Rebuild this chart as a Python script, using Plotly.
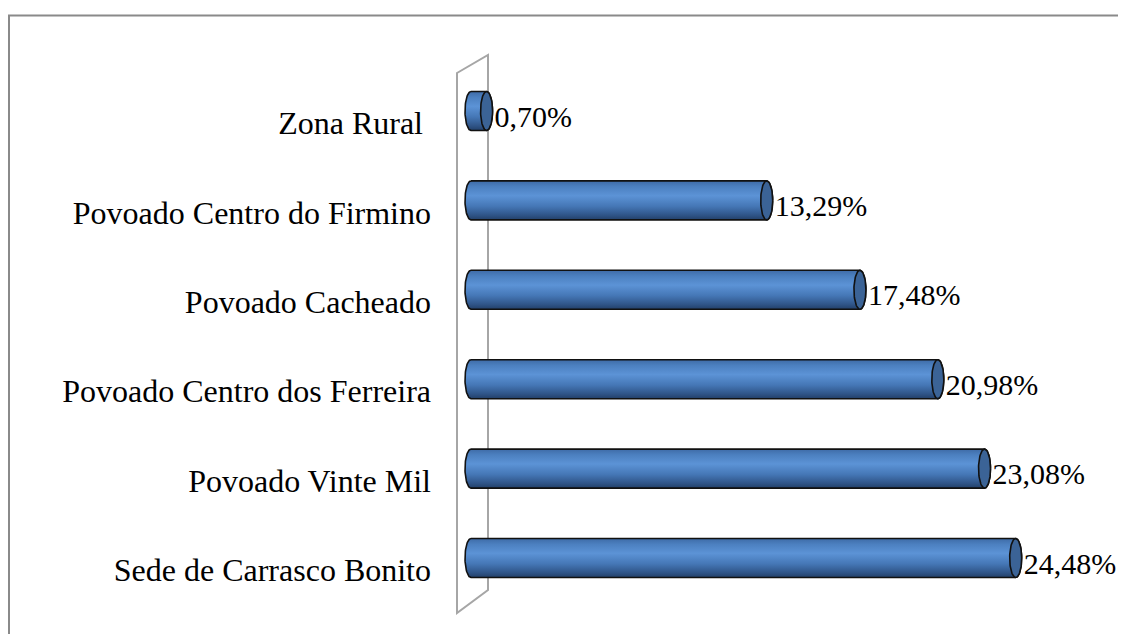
import numpy as np
import plotly.graph_objects as go

categories = ["Sede de Carrasco Bonito", "Povoado Vinte Mil", "Povoado Centro dos Ferreira",
              "Povoado Cacheado", "Povoado Centro do Firmino", "Zona Rural "]
values = [24.48, 23.08, 20.98, 17.48, 13.29, 0.70]
value_labels = ["24,48%", "23,08%", "20,98%", "17,48%", "13,29%", "0,70%"]

FONT = "Liberation Serif, Times New Roman, serif"
OFF = 8  # page body margin in the browser
W, H = 1126 - 2 * OFF, 642 - 2 * OFF
ML, MR, MT, MB = 442, 2, 12, 2
X0PX, XSCALE = 471.0 - OFF, 22.25     # pixel of value 0, px per unit
Y0PX, YSCALE = 558.0 - OFF, 89.4      # pixel of first category center, px per category
pw, ph = W - ML - MR, H - MT - MB
xr = [(ML - X0PX) / XSCALE, (ML + pw - X0PX) / XSCALE]
yr = [(Y0PX - (MT + ph)) / YSCALE, (Y0PX - MT) / YSCALE]

hh = 19.5 / YSCALE      # half bar thickness (data)
a = 6.0 / XSCALE        # cap half-width (data)

fig = go.Figure()

t_left = np.linspace(np.pi / 2, 3 * np.pi / 2, 40)
t_right = np.linspace(-np.pi / 2, np.pi / 2, 40)
t_full = np.linspace(0, 2 * np.pi, 80)

gradient = [[0.0, "#223f68"], [0.12, "#2f5487"], [0.35, "#4577b6"],
            [0.62, "#5c93d6"], [0.85, "#4c80c0"], [1.0, "#3e6ba7"]]

for i, v in enumerate(values):
    yc = i
    xs = list(a * np.cos(t_left)) + list(v + a * np.cos(t_right))
    ys = list(yc + hh * np.sin(t_left)) + list(yc + hh * np.sin(t_right))
    xs.append(xs[0]); ys.append(ys[0])
    fig.add_trace(go.Scatter(
        x=xs, y=ys, mode="lines", fill="toself",
        line=dict(color="#111111", width=1.6),
        fillgradient=dict(type="vertical", colorscale=gradient,
                          start=yc - hh, stop=yc + hh),
        hoverinfo="skip", showlegend=False))
    fig.add_trace(go.Scatter(
        x=list(v + a * np.cos(t_full)), y=list(yc + hh * np.sin(t_full)),
        mode="lines", fill="toself", fillcolor="#3b6396",
        line=dict(color="#111111", width=1.6),
        hoverinfo="skip", showlegend=False))

fig.add_trace(go.Scatter(
    x=[v + 8.0 / XSCALE for v in values], y=[i - 8.0 / YSCALE for i in range(len(values))],
    mode="text", text=value_labels, textposition="middle right",
    textfont=dict(family=FONT, size=30, color="black"),
    hoverinfo="skip", showlegend=False, cliponaxis=False))

def px_x(p):
    return (p - OFF - X0PX) / XSCALE

def px_y(p):
    return (Y0PX - (p - OFF)) / YSCALE

# 3D side wall (reference pixel coordinates)
wall = (f"M {px_x(457)},{px_y(73)} L {px_x(488)},{px_y(55)} "
        f"L {px_x(488)},{px_y(590)} L {px_x(457)},{px_y(613)} Z")
fig.add_shape(type="path", path=wall, xref="x", yref="y", layer="below",
              line=dict(color="#a6a6a6", width=2))

# chart frame (top & left visible)
def pp_x(p):
    return (p - OFF - ML) / pw

def pp_y(p):
    return (MT + ph - (p - OFF)) / ph

fig.add_shape(type="rect", xref="paper", yref="paper",
              x0=pp_x(9), x1=pp_x(1400), y0=pp_y(900), y1=pp_y(15.5),
              line=dict(color="#8a8a8a", width=2))

fig.update_layout(
    width=W, height=H,
    margin=dict(l=ML, r=MR, t=MT, b=MB, pad=0),
    paper_bgcolor="white", plot_bgcolor="white",
    xaxis=dict(range=xr, visible=False, fixedrange=True),
    yaxis=dict(range=yr, tickvals=[i - 12.0 / YSCALE for i in range(len(categories))],
               ticktext=categories, showgrid=False, zeroline=False, showline=False,
               ticks="", ticklabelstandoff=18,
               tickfont=dict(family=FONT, size=32, color="black"), fixedrange=True),
)

fig.write_html("out.html")
